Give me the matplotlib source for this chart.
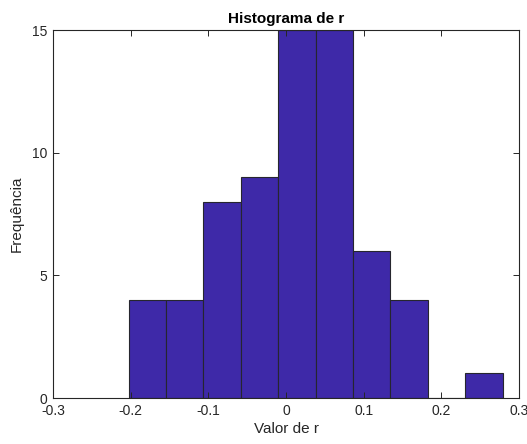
import numpy as np
import matplotlib
matplotlib.use('Agg')
import matplotlib.pyplot as plt

plt.rcParams['font.family'] = ['Liberation Sans', 'DejaVu Sans']

# Bordas dos bins e contagens do histograma
bin_edges = [-0.2027, -0.1546, -0.1064, -0.0583, -0.0102, 0.0380,
             0.0861, 0.1343, 0.1824, 0.2306, 0.2788]
counts = [4, 4, 8, 9, 15, 15, 6, 4, 0, 1]

x_ticks = [-0.3, -0.2, -0.1, 0, 0.1, 0.2, 0.3]
x_tick_labels = ['-0.3', '-0.2', '-0.1', '0', '0.1', '0.2', '0.3']
y_ticks = [0, 5, 10, 15]

fig = plt.figure(figsize=(5.27, 4.44), dpi=100)
ax = fig.add_axes([0.1006, 0.1036, 0.8842, 0.8288])

lefts = np.array(bin_edges[:-1])
widths = np.diff(bin_edges)
ax.bar(lefts, counts, width=widths, align='edge', color='#3E29A8',
       edgecolor='#26262E', linewidth=0.8)

ax.set_xlim(-0.3, 0.3)
ax.set_ylim(0, 15)
ax.set_xticks(x_ticks)
ax.set_xticklabels(x_tick_labels)
ax.set_yticks(y_ticks)
ax.tick_params(direction='in', top=True, right=True, labelsize=10,
               length=4, width=0.7, colors='#262626', pad=4)
for s in ax.spines.values():
    s.set_linewidth(0.8)
    s.set_color('#262626')

ax.set_title('Histograma de r', fontsize=11, fontweight='bold', pad=5)
ax.set_xlabel('Valor de r', fontsize=11, color='#262626', labelpad=3)
ax.set_ylabel('Frequência', fontsize=11, color='#262626', labelpad=6)

fig.savefig('out.png', dpi=100)
